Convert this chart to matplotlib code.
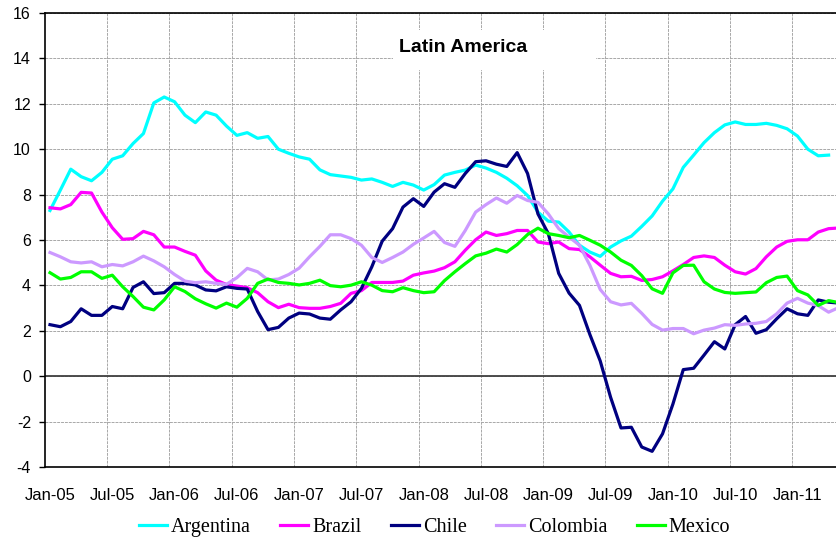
import numpy as np
import matplotlib
matplotlib.use("Agg")
import matplotlib.pyplot as plt
from matplotlib.patches import Rectangle
from matplotlib.ticker import FixedLocator

plt.rcParams['axes.unicode_minus'] = False

# monthly data, Jan-05 .. May-11
argentina = [7.3, 8.2, 9.12, 8.79, 8.61, 8.98, 9.56, 9.71, 10.25, 10.69,
             12.04, 12.3, 12.09, 11.5, 11.17, 11.64, 11.5, 11.02, 10.61, 10.73,
             10.48, 10.56, 10.0, 9.82, 9.66, 9.56, 9.09, 8.88, 8.82, 8.76,
             8.64, 8.69, 8.54, 8.36, 8.54, 8.42, 8.2, 8.44, 8.86, 8.98,
             9.08, 9.3, 9.17, 8.98, 8.72, 8.39, 7.96, 7.23, 6.83, 6.79,
             6.35, 5.77, 5.47, 5.28, 5.69, 5.96, 6.17, 6.6, 7.06, 7.71,
             8.25, 9.2, 9.74, 10.29, 10.73, 11.07, 11.2, 11.09, 11.09, 11.14,
             11.05, 10.9, 10.58, 10.0, 9.71, 9.74, np.nan]
brazil = [7.42, 7.37, 7.56, 8.1, 8.07, 7.23, 6.54, 6.03, 6.06, 6.38,
          6.23, 5.69, 5.69, 5.5, 5.33, 4.64, 4.23, 4.04, 3.97, 3.9,
          3.68, 3.28, 3.02, 3.17, 3.02, 2.99, 2.99, 3.07, 3.21, 3.65,
          3.77, 4.13, 4.13, 4.13, 4.19, 4.45, 4.55, 4.63, 4.78, 5.04,
          5.55, 6.01, 6.35, 6.2, 6.28, 6.42, 6.42, 5.91, 5.84, 5.91,
          5.62, 5.58, 5.26, 4.89, 4.53, 4.38, 4.4, 4.22, 4.26, 4.38,
          4.64, 4.92, 5.23, 5.3, 5.23, 4.89, 4.6, 4.5, 4.74, 5.26,
          5.69, 5.94, 6.01, 6.01, 6.35, 6.5, 6.53]
chile = [2.27, 2.18, 2.41, 2.97, 2.68, 2.68, 3.07, 2.97, 3.91, 4.16,
         3.64, 3.68, 4.09, 4.09, 4.02, 3.8, 3.76, 3.94, 3.87, 3.84,
         2.85, 2.05, 2.15, 2.56, 2.78, 2.74, 2.56, 2.51, 2.92, 3.28,
         3.87, 4.82, 5.95, 6.5, 7.45, 7.82, 7.48, 8.11, 8.48, 8.32,
         8.93, 9.45, 9.49, 9.34, 9.24, 9.85, 8.93, 7.15, 6.28, 4.53,
         3.66, 3.12, 1.84, 0.67, -0.93, -2.28, -2.25, -3.12, -3.31, -2.54,
         -1.23, 0.29, 0.35, 0.93, 1.52, 1.2, 2.27, 2.63, 1.89, 2.05,
         2.53, 2.97, 2.75, 2.68, 3.36, 3.26, 3.22]
colombia = [5.45, 5.26, 5.04, 4.99, 5.04, 4.82, 4.92, 4.86, 5.04, 5.29,
            5.08, 4.82, 4.48, 4.19, 4.12, 4.16, 4.09, 4.05, 4.34, 4.75,
            4.6, 4.24, 4.28, 4.48, 4.76, 5.26, 5.72, 6.23, 6.23, 6.06,
            5.77, 5.23, 5.01, 5.23, 5.47, 5.81, 6.09, 6.38, 5.89, 5.72,
            6.42, 7.23, 7.56, 7.85, 7.62, 7.96, 7.74, 7.66, 7.15, 6.5,
            6.13, 5.77, 4.89, 3.82, 3.28, 3.14, 3.21, 2.77, 2.28, 2.03,
            2.1, 2.1, 1.87, 2.03, 2.12, 2.27, 2.24, 2.3, 2.33, 2.41,
            2.75, 3.22, 3.43, 3.22, 3.11, 2.82, 3.03]
mexico = [4.56, 4.28, 4.35, 4.6, 4.6, 4.31, 4.45, 3.94, 3.51, 3.04,
          2.92, 3.36, 3.94, 3.73, 3.41, 3.19, 3.0, 3.22, 3.04, 3.43,
          4.09, 4.28, 4.13, 4.09, 4.02, 4.09, 4.23, 3.99, 3.94, 4.01,
          4.16, 4.01, 3.77, 3.72, 3.9, 3.77, 3.68, 3.72, 4.21, 4.6,
          4.96, 5.3, 5.42, 5.6, 5.47, 5.8, 6.24, 6.52, 6.28, 6.2,
          6.1, 6.2, 5.99, 5.77, 5.47, 5.11, 4.88, 4.43, 3.85, 3.65,
          4.55, 4.88, 4.89, 4.16, 3.84, 3.69, 3.65, 3.68, 3.71, 4.12,
          4.35, 4.41, 3.77, 3.58, 3.12, 3.33, 3.24]

tick_labels = ['Jan-05', 'Jul-05', 'Jan-06', 'Jul-06', 'Jan-07', 'Jul-07', 'Jan-08',
               'Jul-08', 'Jan-09', 'Jul-09', 'Jan-10', 'Jul-10', 'Jan-11']

series = [('Argentina', argentina, '#00FFFF'),
          ('Brazil', brazil, '#FF00FF'),
          ('Chile', chile, '#000080'),
          ('Colombia', colombia, '#CC99FF'),
          ('Mexico', mexico, '#00FF00')]

fig = plt.figure(figsize=(8.36, 5.4), dpi=100)
# plot area is cut off at the right edge in the original
ax = fig.add_axes([0.0536, 0.1352, 0.9562, 0.8407])

x = np.arange(len(brazil))
for name, vals, col in series:
    ax.plot(x, vals, color=col, lw=2.3, label=name, zorder=3)

ax.set_xlim(-0.5, len(brazil) - 0.5)
ax.set_ylim(-4, 16)
ax.set_yticks(np.arange(-4, 17, 2))
ax.set_xticks(np.arange(0, len(brazil), 6))
ax.set_xticklabels(tick_labels)
ax.xaxis.set_minor_locator(FixedLocator(np.arange(5.5, len(brazil), 6)))

ax.set_axisbelow(True)
ax.grid(axis='y', which='major', color='#a8a8a8', lw=0.7, ls=(0, (3, 1)))
ax.grid(axis='x', which='minor', color='#a8a8a8', lw=0.7, ls=(0, (3, 1)))
ax.axhline(0, color='#404040', lw=1.3, zorder=1)

ax.tick_params(axis='x', which='both', length=0, pad=15, labelsize=12)
ax.tick_params(axis='y', length=4, width=1, pad=6, labelsize=11.5)
for lab in ax.get_xticklabels() + ax.get_yticklabels():
    lab.set_family('Liberation Sans')

for sp in ax.spines.values():
    sp.set_color('black')
    sp.set_linewidth(1.2)
ax.spines['right'].set_visible(False)

# white box behind the title
ax.add_patch(Rectangle((0.4356, 0.874), 0.254, 0.088, transform=ax.transAxes,
                       facecolor='white', edgecolor='none', zorder=1.5))
ax.text(0.523, 0.925, 'Latin America', transform=ax.transAxes, ha='center', va='center',
        fontsize=14, fontweight='bold', family='Liberation Sans', zorder=4)

fig.legend(loc='center', bbox_to_anchor=(434.5 / 836, 1 - 527 / 540), ncol=5, frameon=False,
           prop={'family': 'Liberation Serif', 'size': 14.5}, handlelength=1.4,
           handletextpad=0.2, columnspacing=1.45, borderaxespad=0, borderpad=0)

fig.savefig('out.png', dpi=100)
